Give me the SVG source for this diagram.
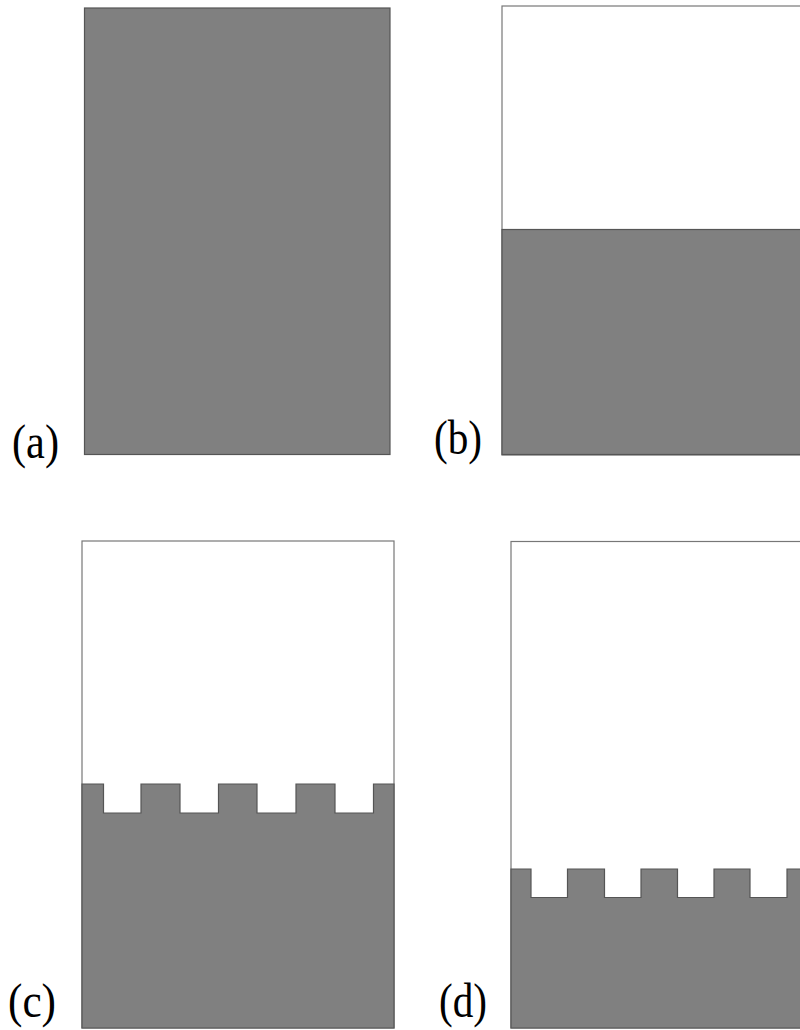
<svg xmlns="http://www.w3.org/2000/svg" width="800" height="1030" viewBox="0 0 800 1030">
<style>
.frame{fill:#ffffff;stroke:#777777;stroke-width:1.2}
.solid{fill:#808080;stroke:#555555;stroke-width:1.2}
.lbl{font-family:"Liberation Serif","Times New Roman",serif;font-size:48px;fill:#000000}
</style>
<rect width="800" height="1030" fill="#ffffff"/>
<g id="panel-a">
<rect class="solid" x="84.5" y="8" width="305.5" height="446.5"/>
<text class="lbl" x="12" y="458" textLength="47" lengthAdjust="spacingAndGlyphs">(a)</text>
</g>
<g id="panel-b">
<rect class="frame" x="502" y="6" width="310" height="449"/>
<rect class="solid" x="502" y="229.5" width="310" height="225"/>
<text class="lbl" x="434" y="454" textLength="48" lengthAdjust="spacingAndGlyphs">(b)</text>
</g>
<g id="panel-c">
<rect class="frame" x="82" y="541" width="312" height="487"/>
<path class="solid" d="M82,784 H103.5 V813 H141 V784 H180 V813 H218.5 V784 H257 V813 H296 V784 H335 V813 H373.5 V784 H394 V1028 H82 Z"/>
<text class="lbl" x="8" y="1017" textLength="48" lengthAdjust="spacingAndGlyphs">(c)</text>
</g>
<g id="panel-d">
<rect class="frame" x="511" y="541.5" width="300" height="486.5"/>
<path class="solid" d="M511,869 H531 V897.5 H567.5 V869 H604.5 V897.5 H641 V869 H677.5 V897.5 H714 V869 H750 V897.5 H787 V869 H811 V1028 H511 Z"/>
<text class="lbl" x="439" y="1017" textLength="48" lengthAdjust="spacingAndGlyphs">(d)</text>
</g>
<g id="connectors"></g>
</svg>
